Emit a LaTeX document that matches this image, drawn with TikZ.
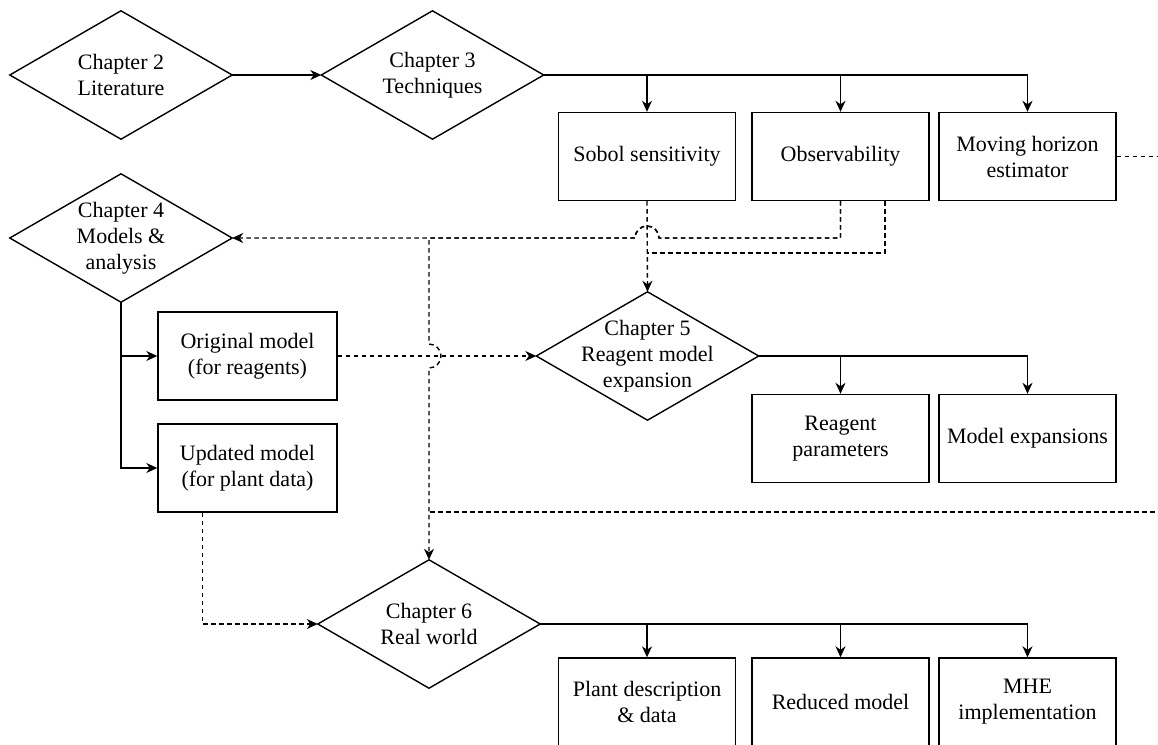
\documentclass[tikz,border=0pt]{standalone}
\usepackage{fontspec}
\setmainfont{Liberation Serif}
\usetikzlibrary{arrows.meta,calc}
\begin{document}
\begin{tikzpicture}[x=1pt,y=-1pt,
  every node/.style={font=\fontsize{22}{26}\selectfont, align=center, inner sep=0pt},
  chap/.style={minimum width=222pt, minimum height=128pt},
  box/.style={draw, line width=1.4pt, minimum width=177pt, minimum height=88pt},
  plain/.style={line width=1.4pt},
  link/.style={plain, -{Stealth[length=11pt,width=10pt,inset=3.5pt]}},
  flow/.style={link, dash pattern=on 4.5pt off 3.5pt},
]
\useasboundingbox (0,0) rectangle (1158,744);
\clip (0,0) rectangle (1158,744);

% chapter decisions (diamonds)
\node[chap] (ch2) at (121,75)    {Chapter 2\\Literature};
\node[chap] (ch3) at (432.5,75)  {Chapter 3\\Techniques};
\node[chap] (ch4) at (121,238)   {Chapter 4\\Models \&\\analysis};
\node[chap] (ch5) at (647.5,356) {Chapter 5\\Reagent model\\expansion};
\node[chap] (ch6) at (429,624)   {Chapter 6\\Real world};
\foreach \n in {ch2,ch3,ch4,ch5,ch6}
  \draw[plain] (\n.west) -- (\n.north) -- (\n.east) -- (\n.south) -- cycle;

% content boxes
\node[box] (sobol) at (647,156.5)    {Sobol sensitivity};
\node[box] (obs)   at (840.5,156.5)  {Observability};
\node[box] (mhe)   at (1027.5,156.5) {Moving horizon\\estimator};
\node[box, minimum width=179pt] (orig) at (247.5,356) {Original model\\(for reagents)};
\node[box, minimum width=179pt] (upd)  at (247.5,468) {Updated model\\(for plant data)};
\node[box] (reag)  at (840.5,438.5)  {Reagent\\parameters};
\node[box] (mexp)  at (1027.5,438.5) {Model expansions};
\node[box] (plant) at (647,702)      {Plant description\\\& data};
\node[box] (red)   at (840.5,702)    {Reduced model};
\node[box] (mimpl) at (1027.5,702)   {MHE\\implementation};

% solid structure
\draw[link] (ch2.east) -- (ch3.west);
\foreach \b in {sobol,obs,mhe} \draw[link] (ch3.east) -| (\b.north);
\foreach \b in {reag,mexp} \draw[link] (ch5.east) -| (\b.north);
\foreach \b in {plant,red,mimpl} \draw[link] (ch6.east) -| (\b.north);
\draw[link] (ch4.south) |- (orig.west);
\draw[link] (ch4.south) |- (upd.west);

% dashed dependencies
\coordinate (obsR) at ($(obs.south)!0.5!(obs.south east)$);
\coordinate (updL) at ($(upd.south west)!0.5!(upd.south)$);
\coordinate (j5) at (647,253);
\coordinate (j6) at (429,512);

\draw[flow] (sobol.south) -- (ch5.north);
\draw[flow,-] (obsR) |- (j5);
\draw[flow] (obs.south) -- (840.5,238) -- (659,238)
  arc[start angle=0, end angle=180, radius=12pt] -- (ch4.east);
\draw[flow] (obs.south) -- (840.5,238) -- (659,238)
  arc[start angle=0, end angle=180, radius=12pt] -- (429,238) -- (429,344)
  arc[start angle=90, end angle=-90, radius=12pt] -- (ch6.north);
\draw[flow] (orig.east) -- (ch5.west);
\draw[flow] (updL) |- (ch6.west);
\draw[flow,-] (mhe.east) -- (1190,156.5) -- (1190,512) -- (j6);
\end{tikzpicture}
\end{document}
